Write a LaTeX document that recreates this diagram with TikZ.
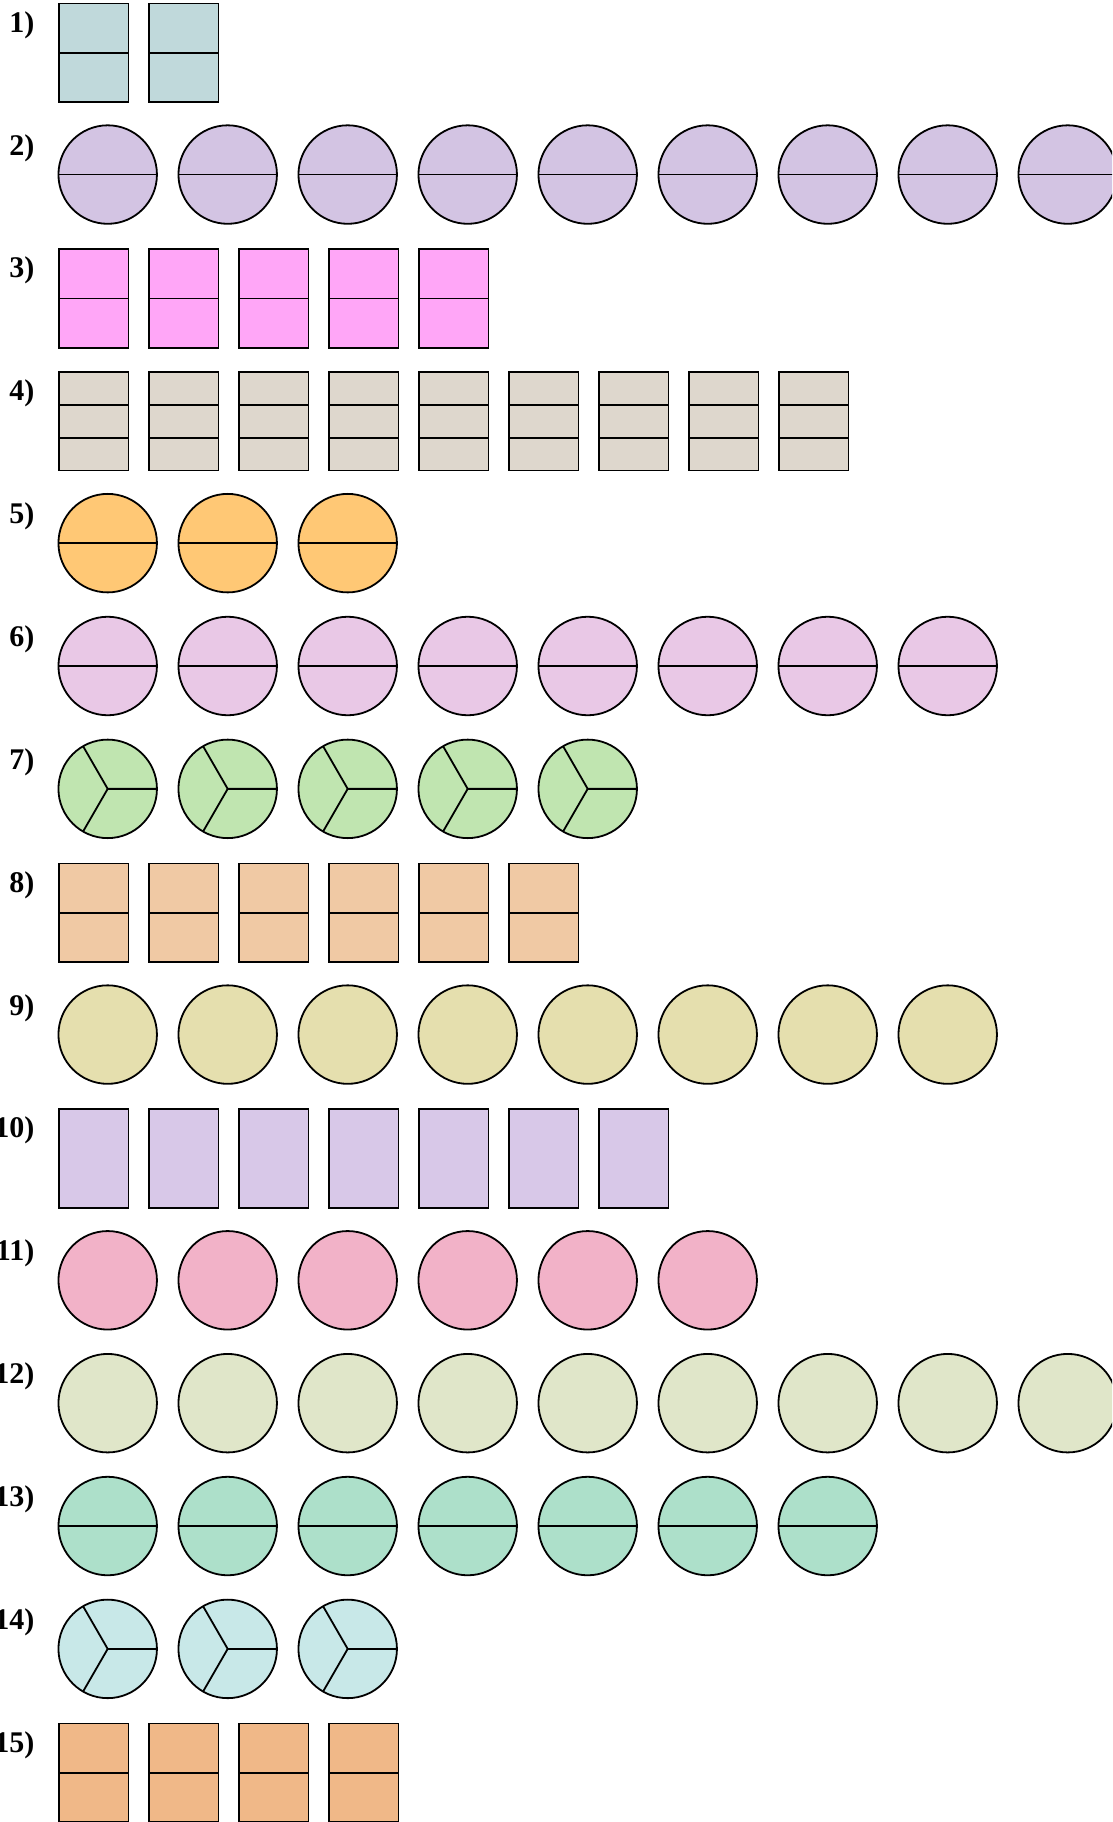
\documentclass[tikz,border=0pt]{standalone}
\usepackage{fontspec}
\setmainfont{Liberation Serif}
\usetikzlibrary{calc}
\definecolor{fillA}{HTML}{C0D9DB}
\definecolor{fillB}{HTML}{D3C4E3}
\definecolor{fillC}{HTML}{FFA6F7}
\definecolor{fillD}{HTML}{DED7CD}
\definecolor{fillE}{HTML}{FFC875}
\definecolor{fillF}{HTML}{E9C8E6}
\definecolor{fillG}{HTML}{C0E5B0}
\definecolor{fillH}{HTML}{F0C9A4}
\definecolor{fillI}{HTML}{E5DFAE}
\definecolor{fillJ}{HTML}{D8C8E8}
\definecolor{fillK}{HTML}{F2B2C8}
\definecolor{fillL}{HTML}{E0E6C9}
\definecolor{fillM}{HTML}{ADE0CA}
\definecolor{fillN}{HTML}{C8E8E8}
\definecolor{fillO}{HTML}{F0B888}
\tikzset{tile/.style={draw=black,line width=1.8pt,minimum width=69.5pt,minimum height=98.5pt,inner sep=0pt,outer sep=0pt},
 disc/.style={circle,draw=black,line width=1.8pt,minimum size=98.5pt,inner sep=0pt,outer sep=0pt},
 cut/.style={line width=1.8pt},
 rowlabel/.style={anchor=base east,inner sep=0pt,font=\fontsize{30}{30}\selectfont\bfseries}}
% row, count, colour, parts
\newcommand\tilerow[4]{%
 \node[rowlabel] (n#1) at (34.5,{(#1-1)*122.86+32.2}) {#1)};
 \foreach \k in {1,...,#2}{
  \node[tile,fill=#3] (t#1-\k) at ({93.8+(\k-1)*90},{52.7+(#1-1)*122.86}) {};
  \ifnum#4=2 \draw[cut] (t#1-\k.west) -- (t#1-\k.east);\fi
  \ifnum#4=3
   \draw[cut] ($(t#1-\k.north west)!1/3!(t#1-\k.south west)$) -- ($(t#1-\k.north east)!1/3!(t#1-\k.south east)$);
   \draw[cut] ($(t#1-\k.north west)!2/3!(t#1-\k.south west)$) -- ($(t#1-\k.north east)!2/3!(t#1-\k.south east)$);
  \fi}}
\newcommand\discrow[4]{%
 \node[rowlabel] (n#1) at (34.5,{(#1-1)*122.86+32.2}) {#1)};
 \foreach \k in {1,...,#2}{
  \node[disc,fill=#3] (d#1-\k) at ({107.7+(\k-1)*120},{51.7+(#1-1)*122.86}) {};
  \ifnum#4=2 \draw[cut] (d#1-\k.west) -- (d#1-\k.east);\fi
  \ifnum#4=3
   \draw[cut] (d#1-\k.east) -- (d#1-\k.center) -- (d#1-\k.120);
   \draw[cut] (d#1-\k.center) -- (d#1-\k.240);
  \fi}}

\begin{document}
\begin{tikzpicture}[x=1pt,y=-1pt]
\clip (0,0) rectangle (1112,1822);
\fill[white] (0,0) rectangle (1112,1822);
\tilerow{1}{2}{fillA}{2}
\discrow{2}{9}{fillB}{2}
\tilerow{3}{5}{fillC}{2}
\tilerow{4}{9}{fillD}{3}
\discrow{5}{3}{fillE}{2}
\discrow{6}{8}{fillF}{2}
\discrow{7}{5}{fillG}{3}
\tilerow{8}{6}{fillH}{2}
\discrow{9}{8}{fillI}{1}
\tilerow{10}{7}{fillJ}{1}
\discrow{11}{6}{fillK}{1}
\discrow{12}{9}{fillL}{1}
\discrow{13}{7}{fillM}{2}
\discrow{14}{3}{fillN}{3}
\tilerow{15}{4}{fillO}{2}
\end{tikzpicture}
\end{document}
